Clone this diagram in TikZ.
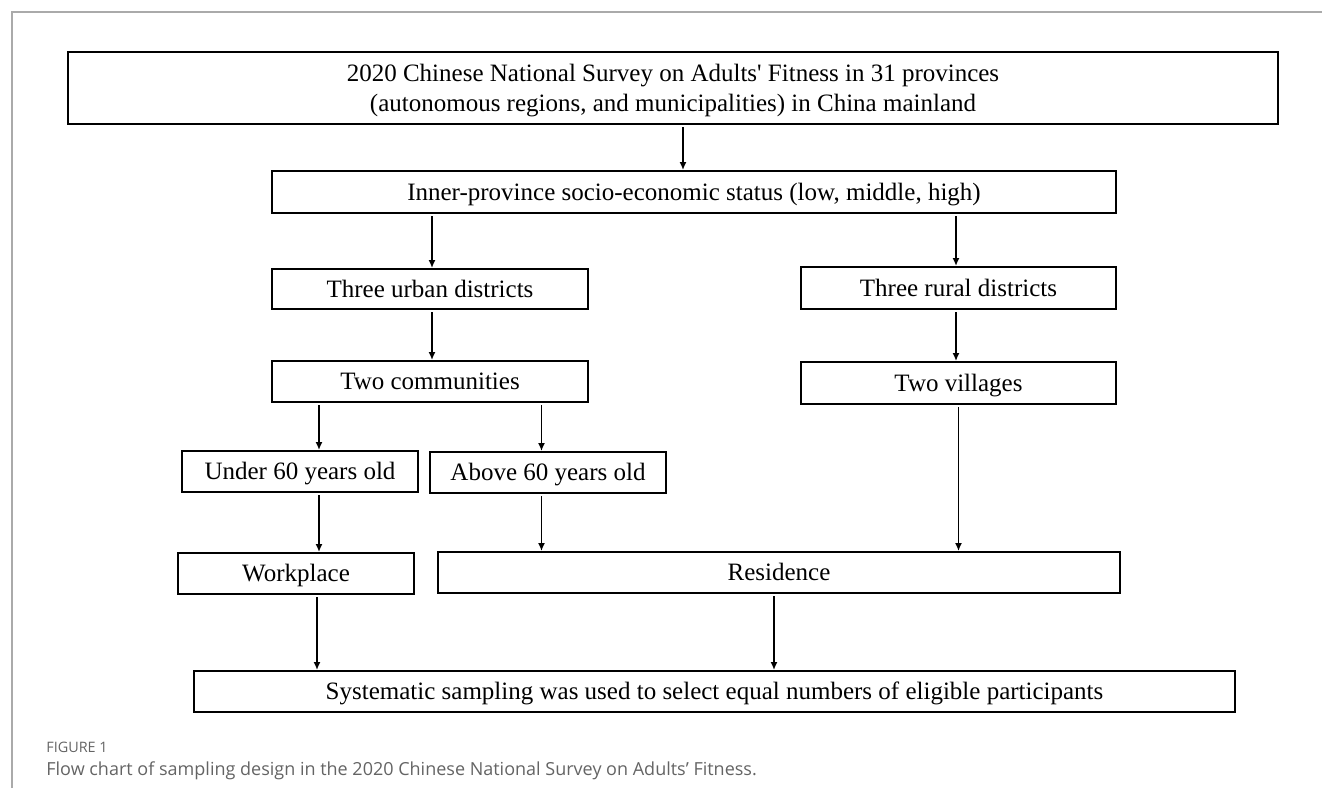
\documentclass[tikz,border=0pt]{standalone}
\usepackage{fontspec}
\setmainfont{Liberation Serif}
\newfontfamily\capfont{Open Sans}
\usetikzlibrary{arrows.meta}
\definecolor{capgray}{RGB}{100,100,100}
\definecolor{framegray}{RGB}{170,170,170}
\tikzset{
  bigbox/.style={
    draw,
    line width = 1pt,
    inner sep = 0pt,
    shape = rectangle,
    font = \fontsize{12.5}{15}\selectfont
  },
  box/.style={
    bigbox,
    text height = 8.2pt,
    text depth = 0pt
  },
  arr/.style={
    -{Latex[length=4pt,width=3.5pt]},
    line width = 0.75pt,
    shorten <= 1pt
  },
  caplabel/.style={
    anchor = base west,
    inner sep = 0pt,
    text = capgray
  }
}
\begin{document}
\begin{tikzpicture}[x=0.5pt,y=-0.5pt]
  \useasboundingbox (0,0) rectangle (1322,798);
  \draw[framegray, line width=0.6pt] (12,788) -- (12,12) -- (1322,12);

  \node[bigbox, minimum width=605pt, minimum height=36pt, align=center] (survey) at (673,88)
    {\rule{0pt}{11.5pt}2020 Chinese National Survey on Adults\textquotesingle\ Fitness in 31 provinces\\
     (autonomous regions, and municipalities) in China mainland};
  \node[box, minimum width=422pt, minimum height=21pt] (status) at (694,192)
    {Inner-province socio-economic status (low, middle, high)};

  \node[box, minimum width=158pt, minimum height=20pt] (urban) at (430,289) {Three urban districts};
  \node[box, minimum width=157.5pt, minimum height=21pt] (rural) at (958.5,288) {Three rural districts};
  \node[box, minimum width=158pt, minimum height=20.5pt] (comm) at (430,381.5) {Two communities};
  \node[box, minimum width=157.5pt, minimum height=21pt] (vill) at (958.5,383) {Two villages};

  \node[box, minimum width=118pt, minimum height=20.5pt] (under) at (300,471.5) {Under 60 years old};
  \node[box, minimum width=118pt, minimum height=20.5pt] (above) at (548,472.5) {Above 60 years old};
  \node[box, minimum width=118pt, minimum height=20.5pt] (work) at (296,573.5) {Workplace};
  \node[box, minimum width=341pt, minimum height=20.5pt] (resid) at (779,572.5) {Residence};

  \node[box, minimum width=520.5pt, minimum height=20.5pt] (sampling) at (714.5,691.5)
    {Systematic sampling was used to select equal numbers of eligible participants};

  % connectors
  \draw[arr] ([xshift=5pt]survey.south) -- ([xshift=5pt]survey.south |- status.north);
  \draw[arr] ([xshift=1pt]urban.north |- status.south) -- ([xshift=1pt]urban.north);
  \draw[arr] ([xshift=-1.25pt]rural.north |- status.south) -- ([xshift=-1.25pt]rural.north);
  \draw[arr] ([xshift=1pt]urban.south) -- ([xshift=1pt]comm.north);
  \draw[arr] ([xshift=-1.25pt]rural.south) -- ([xshift=-1.25pt]vill.north);
  \draw[arr] ([xshift=9.5pt]under.north |- comm.south) -- ([xshift=9.5pt]under.north);
  \draw[arr] ([xshift=-3.25pt]above.north |- comm.south) -- ([xshift=-3.25pt]above.north);
  \draw[arr] ([xshift=9.5pt]under.south) -- ([xshift=9.5pt]under.south |- work.north);
  \draw[arr] ([xshift=-3.25pt]above.south) -- ([xshift=-3.25pt]above.south |- resid.north);
  \draw[arr] (vill.south) -- (vill.south |- resid.north);
  \draw[arr] ([xshift=10.5pt]work.south) -- ([xshift=10.5pt]work.south |- sampling.north);
  \draw[arr] ([xshift=-2.5pt]resid.south) -- ([xshift=-2.5pt]resid.south |- sampling.north);

  % caption
  \node[caplabel, font=\capfont\fontsize{7.2}{8}\selectfont] (fignum) at (46,752) {FIGURE 1};
  \node[caplabel, font=\capfont\fontsize{9}{11}\selectfont] (figcap) at (46,775)
    {Flow chart of sampling design in the 2020 Chinese National Survey on Adults’ Fitness.};
\end{tikzpicture}
\end{document}
